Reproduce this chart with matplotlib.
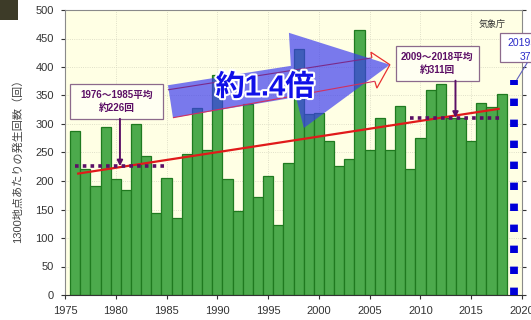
"""Hourly rainfall >= 50mm: yearly occurrences per 1300 AMeDAS stations (JMA)."""

import matplotlib

matplotlib.use("Agg")
import matplotlib.pyplot as plt
import matplotlib.patheffects as pe
import numpy as np
from matplotlib.patches import Polygon, Rectangle

plt.rcParams["font.family"] = ["Liberation Sans", "Noto Sans CJK JP", "DejaVu Sans"]

# ---- data -------------------------------------------------------------- #
years = list(range(1976, 2019))
counts = [288, 221, 191, 295, 204, 184, 300, 243, 144, 206,
          135, 247, 328, 255, 386, 204, 147, 335, 172, 208,
          123, 232, 431, 318, 319, 270, 227, 238, 465, 254,
          311, 254, 332, 221, 275, 360, 370, 310, 310, 271,
          336, 329, 352]
latest_year = 2019
latest_count = 377
period_starts = [1976, 2009]
period_ends = [1985, 2018]
period_means = [226, 311]
period_labels = ["1976～1985平均\n約226回", "2009～2018平均\n約311回"]
ratio_label = "約1.4倍"
ylabel = "1300地点あたりの発生回数（回）"
source = "気象庁"

PURPLE = "#5c0f66"
GREEN = "#4caa4c"
EDGE = "#1f7a1f"

fig = plt.figure(figsize=(5.31, 3.2), dpi=100)
ax = fig.add_axes([65 / 531, 1 - 295 / 320, 457 / 531, 285 / 320])
ax.set_facecolor("#ffffe4")

ax.bar(years, counts, width=1.0, color=GREEN, edgecolor=EDGE, linewidth=0.9, zorder=2)

# 2019 (year in progress) as a column of blue squares
ax.plot([latest_year + 0.25] * 2, [0, latest_count], color="#0000d8", lw=5.6,
        dashes=(0.95, 1.75), solid_capstyle="butt", dash_capstyle="butt", zorder=3)

# linear trend
coef = np.polyfit(years, counts, 1)
tx = np.array([years[0] + 0.3, years[-1] - 0.3])
ax.plot(tx, np.polyval(coef, tx), color="#e01a1a", lw=1.6, zorder=4)

# period means + callouts
boxes = [((1975.49, 309), 9.13, 61, 1980.41), ((2007.58, 376), 8.17, 60, 2013.45)]
for s, e, m, lab, (xy, w, h, ax_x) in zip(period_starts, period_ends, period_means,
                                           period_labels, boxes):
    ax.plot([s, e], [m, m], color=PURPLE, lw=2.6, dashes=(1.0, 1.15),
            dash_capstyle="butt", zorder=5)
    ax.add_patch(Rectangle(xy, w, h, facecolor="#fffff2", edgecolor="#8c6a8c",
                           lw=0.9, zorder=6))
    ax.text(xy[0] + w / 2, xy[1] + h / 2, lab, ha="center", va="center",
            fontsize=7, fontweight="bold", color=PURPLE, linespacing=1.45, zorder=7)
    ax.annotate("", xy=(ax_x, m), xytext=(ax_x, xy[1]),
                arrowprops=dict(arrowstyle="-|>", color=PURPLE, lw=1.4,
                                mutation_scale=8, shrinkA=0, shrinkB=0), zorder=7)

# outline arrow behind, translucent blue arrow on top
outline = [(1985.14, 360), (2005.22, 416), (2005.12, 426), (2006.99, 404),
           (2005.71, 363), (2005.51, 375), (1985.63, 311)]
ax.add_patch(Polygon(outline[:2], closed=False, fill=False, edgecolor="#7a2a8a",
                     lw=0.8, zorder=9))
ax.add_patch(Polygon(outline[1:6], closed=False, fill=False, edgecolor="#e83030",
                     lw=0.9, zorder=9))
ax.add_patch(Polygon([outline[5], outline[6]], closed=False, fill=False,
                     edgecolor="#d03060", lw=0.8, zorder=9))
arrow = [(1985.14, 368), (1997.24, 402), (1997.05, 460), (2006.99, 404),
         (1998.52, 293), (1997.74, 347), (1985.63, 311)]
ax.add_patch(Polygon(arrow, closed=True, facecolor="#3a3af0", alpha=0.68,
                     edgecolor="none", zorder=8))
ax.text(1994.69, 364, ratio_label, ha="center", va="center", fontsize=21,
        fontweight="bold", color="#1010e8", zorder=10,
        path_effects=[pe.withStroke(linewidth=3, foreground="white")])

ax.text(2017.03, 474, source, ha="center", va="center", fontsize=6.5, color="#333333")

# 2019 callout, cut off at the right edge of the figure
ax.add_patch(Rectangle((2017.8, 409), 6.0, 51, facecolor="white", edgecolor="#8c6a8c",
                       lw=0.9, clip_on=False, zorder=6))
ax.text(2018.6, 442, f"{latest_year}年", ha="left", va="center", fontsize=7.5,
        color="#2a2ac8", clip_on=False, zorder=7)
ax.text(2019.8, 418, f"{latest_count}回", ha="left", va="center", fontsize=7.5,
        color="#2a2ac8", clip_on=False, zorder=7)
ax.plot([2020.5, 2019.5], [407, 378], color="#6060c0", lw=0.8, clip_on=False, zorder=7)

ax.set_xlim(1975, 2020)
ax.set_ylim(0, 500)
ax.set_xticks(range(1975, 2021, 5))
ax.set_yticks(range(0, 501, 50))
ax.grid(True, color="#d6d6c0", lw=0.6, ls=":", zorder=0)
ax.set_axisbelow(True)
ax.yaxis.set_ticks_position("both")
ax.tick_params(labelsize=8, colors="#333333", length=3, width=0.8)
ax.tick_params(axis="y", pad=5)
ax.tick_params(axis="x", pad=5)
for side in ["left", "right", "top"]:
    ax.spines[side].set_color("#8a8a8a")
ax.spines["bottom"].set_color("#333333")

fig.text(18 / 531, 1 - 158 / 320, ylabel, rotation=90, ha="center", va="center",
         fontsize=8, color="#444444")
fig.patches.append(Rectangle((0, 1 - 20 / 320), 18 / 531, 20 / 320,
                             transform=fig.transFigure, facecolor="#3d3b28",
                             edgecolor="none"))

fig.savefig("out.png", dpi=100)
